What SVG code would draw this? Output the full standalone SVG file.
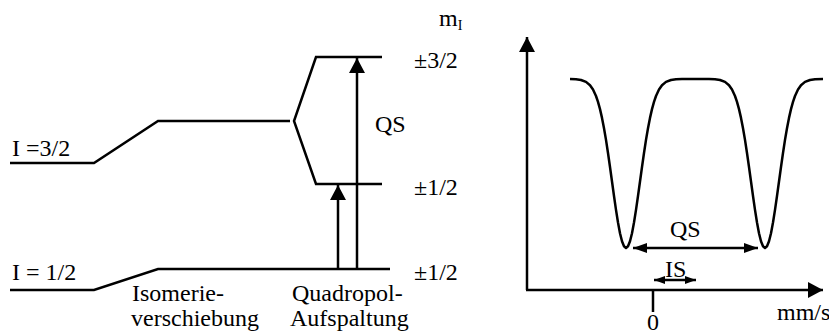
<svg xmlns="http://www.w3.org/2000/svg" width="829" height="336" viewBox="0 0 829 336">
<style>
.ln{fill:none;stroke:#000;stroke-width:2.5;stroke-linejoin:miter}
text{font-family:'Liberation Serif','DejaVu Serif',serif;font-size:24px;fill:#000}
</style>
<defs>
<marker id="ah" viewBox="0 0 15 16" refX="15" refY="8" markerWidth="15" markerHeight="16" markerUnits="userSpaceOnUse" orient="auto"><path d="M0,0 L15,8 L0,16 Z" fill="#000"/></marker>
<marker id="ahs" viewBox="0 0 14 10" refX="14" refY="5" markerWidth="14" markerHeight="10" markerUnits="userSpaceOnUse" orient="auto-start-reverse"><path d="M0,0 L14,5 L0,10 Z" fill="#000"/></marker>
<marker id="ahxs" viewBox="0 0 11 8" refX="11" refY="4" markerWidth="11" markerHeight="8" markerUnits="userSpaceOnUse" orient="auto-start-reverse"><path d="M0,0 L11,4 L0,8 Z" fill="#000"/></marker>
</defs>
<rect width="829" height="336" fill="#fff"/>
<g font-family="Liberation Serif, DejaVu Serif, serif" font-size="24">
<g id="level-I32">
<polyline class="ln" points="10,163 94,163 158,121 290,121"/>
<text x="12" y="156">I =3/2</text>
</g>
<g id="level-I12">
<polyline class="ln" points="10,290 94,290 158,269 390,269"/>
<text x="12" y="280">I = 1/2</text>
</g>
<g id="split">
<polyline class="ln" points="382,57 316,57 294,121 316,184 382,184"/>
<text x="414" y="68">±3/2</text>
<text x="414" y="195">±1/2</text>
<text x="414" y="280">±1/2</text>
<text x="439" y="26">m<tspan font-size="14" dy="4">I</tspan></text>
<text x="375" y="132">QS</text>
</g>
<g id="labels">
<text x="132" y="301">Isomerie-</text>
<text x="131" y="326">verschiebung</text>
<text x="292" y="301">Quadropol-</text>
<text x="290" y="326">Aufspaltung</text>
</g>
<g id="connectors">
<line class="ln" x1="338" y1="269" x2="338" y2="185" marker-end="url(#ah)"/>
<line class="ln" x1="357" y1="269" x2="357" y2="58" marker-end="url(#ah)"/>
<line class="ln" x1="527" y1="290" x2="527" y2="37" marker-end="url(#ah)"/>
<line class="ln" x1="526" y1="290" x2="823" y2="290" marker-end="url(#ah)"/>
<line class="ln" x1="653" y1="290" x2="653" y2="312"/>
<line class="ln" x1="633" y1="248" x2="758" y2="248" marker-start="url(#ahs)" marker-end="url(#ahs)"/>
<line class="ln" x1="654" y1="280" x2="696" y2="280" marker-start="url(#ahxs)" marker-end="url(#ahxs)"/>
</g>
<g id="spectrum">
<polyline class="ln" points="570,79 576,79.3 581,80 586,81.9 590,85.2 593,89.5 596,96 598,101.9 600,109.1 602,117.9 604,128.2 606,139.9 608,153 610,167 612,181.5 614,196 616,209.9 618,222.5 620,233.2 622,241.2 624,246.3 626,248 628,246.3 630,241.2 632,233.2 634,222.5 636,209.9 638,196 640,181.5 642,167 644,153 646,139.9 648,128.2 650,117.9 652,109.1 654,101.9 656,96 659,89.5 662,85.2 666,81.9 671,80 676,79.3 682,79 709,79 715,79.3 720,80 725,81.9 729,85.2 732,89.5 735,96 737,101.9 739,109.1 741,117.9 743,128.2 745,139.9 747,153 749,167 751,181.5 753,196 755,209.9 757,222.5 759,233.2 761,241.2 763,246.3 765,248 767,246.3 769,241.2 771,233.2 773,222.5 775,209.9 777,196 779,181.5 781,167 783,153 785,139.9 787,128.2 789,117.9 791,109.1 793,101.9 795,96 798,89.5 801,85.2 805,81.9 810,80 815,79.3 823,79" style="stroke-linejoin:round"/>
<text x="670" y="237">QS</text>
<text x="665" y="277">IS</text>
<text x="777" y="320">mm/s</text>
<text x="653" y="330" text-anchor="middle">0</text>
</g>
</g>
</svg>
